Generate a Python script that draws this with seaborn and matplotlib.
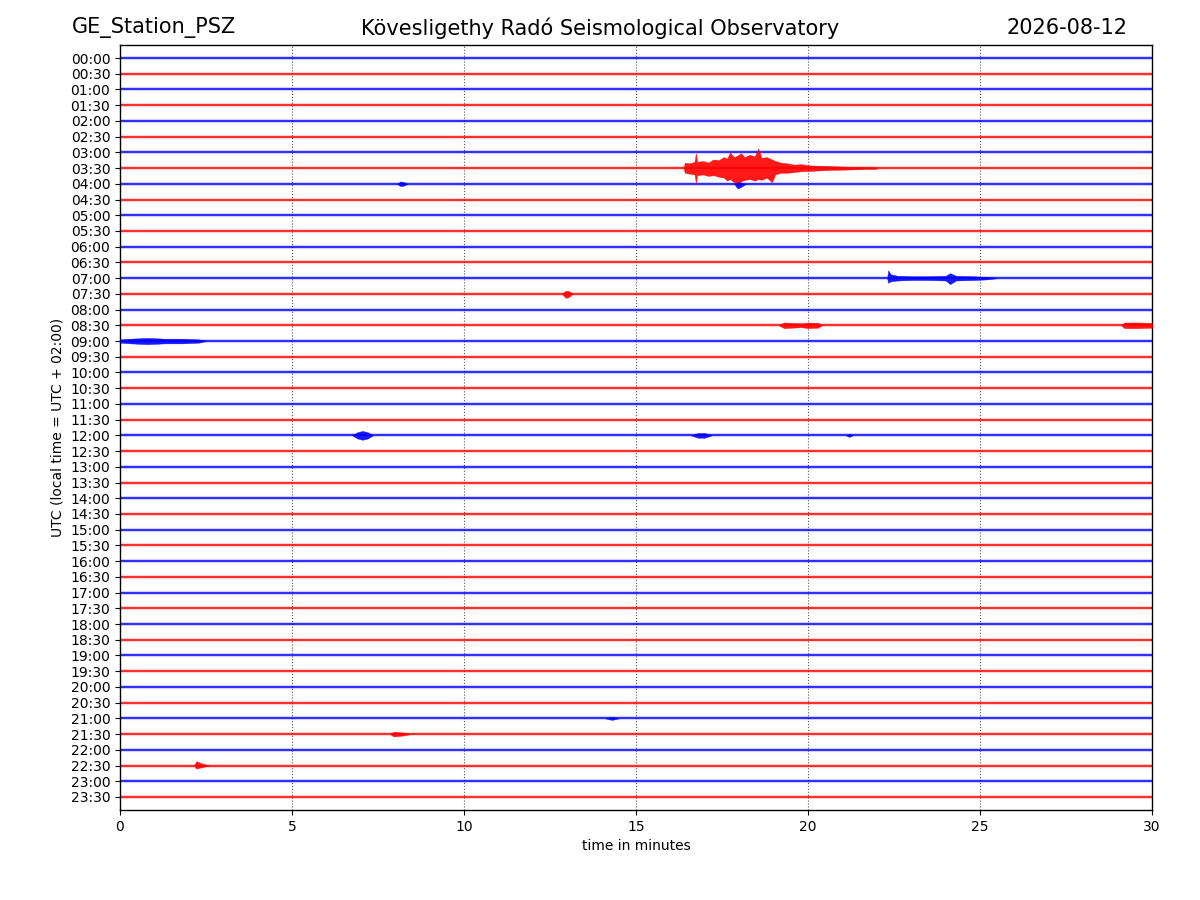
import matplotlib
matplotlib.use("Agg")
import matplotlib.pyplot as plt
import seaborn as sns
import pandas as pd

# 48 half-hour lines of the day plot, 30 minutes each
row_labels = [
    "00:00", "00:30", "01:00", "01:30", "02:00", "02:30", "03:00", "03:30",
    "04:00", "04:30", "05:00", "05:30", "06:00", "06:30", "07:00", "07:30",
    "08:00", "08:30", "09:00", "09:30", "10:00", "10:30", "11:00", "11:30",
    "12:00", "12:30", "13:00", "13:30", "14:00", "14:30", "15:00", "15:30",
    "16:00", "16:30", "17:00", "17:30", "18:00", "18:30", "19:00", "19:30",
    "20:00", "20:30", "21:00", "21:30", "22:00", "22:30", "23:00", "23:30",
]
trace_colors = ["#0000ff", "#ff0000"]  # alternating per line
x_ticks = [0, 5, 10, 15, 20, 25, 30]

# envelopes of the visible events (minute, amplitude up, amplitude down), in line units
quake_row = 7
quake_min = [16.38, 16.42, 16.55, 16.70, 16.74, 16.78, 16.95, 17.10, 17.25, 17.40,
             17.55, 17.65, 17.73, 17.85, 17.95, 18.05, 18.15, 18.30, 18.45, 18.55,
             18.65, 18.80, 18.95, 19.05, 19.20, 19.40, 19.60, 19.80, 20.00, 20.30,
             20.60, 21.00, 21.50, 22.00]
quake_up = [0.0, 0.35, 0.30, 0.40, 0.95, 0.40, 0.45, 0.35, 0.55, 0.50,
            0.70, 0.60, 1.00, 0.70, 0.80, 0.95, 0.70, 0.85, 0.75, 1.25,
            0.65, 0.70, 0.55, 0.45, 0.35, 0.30, 0.22, 0.25, 0.18, 0.15,
            0.13, 0.10, 0.07, 0.04]
quake_down = [0.0, 0.30, 0.35, 0.40, 0.95, 0.45, 0.40, 0.50, 0.45, 0.55,
              0.60, 0.80, 0.70, 0.90, 1.10, 0.85, 0.75, 0.70, 0.80, 0.70,
              0.75, 0.60, 0.90, 0.40, 0.30, 0.30, 0.25, 0.20, 0.18, 0.15,
              0.12, 0.10, 0.07, 0.04]

local_row = 14
local_min = [22.30, 22.33, 22.40, 22.60, 23.00, 23.50, 24.00, 24.13, 24.30, 24.80, 25.20, 25.50]
local_up = [0.0, 0.50, 0.25, 0.15, 0.12, 0.12, 0.15, 0.32, 0.15, 0.12, 0.08, 0.0]
local_down = [0.0, 0.30, 0.20, 0.15, 0.12, 0.12, 0.15, 0.38, 0.15, 0.12, 0.08, 0.0]

# smaller bursts: (line, minutes, amp up, amp down)
small_events = [
    (8, [8.05, 8.15, 8.25, 8.35], [0.0, 0.15, 0.12, 0.0], [0.0, 0.15, 0.12, 0.0]),
    (8, [17.85, 17.95, 18.05, 18.20], [0.0, 0.10, 0.08, 0.0], [0.0, 0.30, 0.20, 0.0]),
    (15, [12.85, 12.95, 13.05, 13.15], [0.0, 0.20, 0.18, 0.0], [0.0, 0.25, 0.20, 0.0]),
    (17, [19.15, 19.30, 19.80, 20.00, 20.30, 20.40], [0.0, 0.18, 0.12, 0.18, 0.15, 0.0],
     [0.0, 0.18, 0.12, 0.18, 0.15, 0.0]),
    (17, [29.10, 29.20, 29.60, 30.00], [0.0, 0.18, 0.18, 0.15], [0.0, 0.18, 0.18, 0.15]),
    (18, [0.00, 0.30, 0.80, 1.30, 1.80, 2.30, 2.50], [0.10, 0.15, 0.20, 0.15, 0.15, 0.10, 0.0],
     [0.10, 0.15, 0.20, 0.15, 0.15, 0.10, 0.0]),
    (24, [6.75, 6.90, 7.05, 7.20, 7.35], [0.0, 0.20, 0.28, 0.20, 0.0], [0.0, 0.20, 0.28, 0.20, 0.0]),
    (24, [16.60, 16.80, 17.00, 17.20], [0.0, 0.15, 0.15, 0.0], [0.0, 0.15, 0.15, 0.0]),
    (24, [21.10, 21.20, 21.30], [0.0, 0.10, 0.0], [0.0, 0.10, 0.0]),
    (42, [14.10, 14.30, 14.50], [0.0, 0.10, 0.0], [0.0, 0.10, 0.0]),
    (43, [7.85, 7.95, 8.20, 8.45], [0.0, 0.15, 0.10, 0.0], [0.0, 0.15, 0.10, 0.0]),
    (45, [2.15, 2.22, 2.35, 2.60], [0.0, 0.28, 0.15, 0.0], [0.0, 0.20, 0.12, 0.0]),
]

sns.set_style("ticks")
plt.rcParams["font.family"] = ["DejaVu Sans"]
plt.rcParams["text.color"] = "black"
plt.rcParams["axes.labelcolor"] = "black"

fig = plt.figure(figsize=(12, 9), dpi=100)
ax = fig.add_axes([0.1, 0.1, 0.86, 0.85])

# baselines of every half-hour line
base = pd.DataFrame({
    "minute": [0, 30] * len(row_labels),
    "row": [i for i in range(len(row_labels)) for _ in range(2)],
})
base["parity"] = base["row"] % 2
palette = {0: trace_colors[0], 1: trace_colors[1]}
# faint noise band, then the trace itself
sns.lineplot(data=base, x="minute", y="row", hue="parity", units="row", estimator=None,
             palette=palette, legend=False, linewidth=3.0, alpha=0.18, ax=ax)
sns.lineplot(data=base, x="minute", y="row", hue="parity", units="row", estimator=None,
             palette=palette, legend=False, linewidth=1.1, ax=ax)


def draw_event(row, minutes, up, down, alpha=0.9):
    col = trace_colors[row % 2]
    lo = [row - u for u in up]
    hi = [row + d for d in down]
    ax.fill_between(minutes, lo, hi, color=col, alpha=alpha, linewidth=0.3, zorder=3)


draw_event(quake_row, quake_min, quake_up, quake_down)
draw_event(local_row, local_min, local_up, local_down)
for r, m, u, d in small_events:
    draw_event(r, m, u, d)

ax.set_xlim(0, 30)
ax.set_ylim(len(row_labels) - 0.17, -0.83)
ax.set_xticks(x_ticks)
ax.set_yticks(range(len(row_labels)))
ax.set_yticklabels(row_labels)
ax.tick_params(axis="both", direction="out", length=3.5, width=0.8, labelsize=10,
               colors="black")
for s in ax.spines.values():
    s.set_visible(True)
    s.set_color("black")
    s.set_linewidth(1.0)
for xv in x_ticks[1:-1]:
    ax.axvline(xv, color="#555555", linestyle=":", linewidth=0.8, zorder=0)

ax.set_xlabel("time in minutes", fontsize=10)
ax.set_ylabel("UTC (local time = UTC + 02:00)", fontsize=10)

fig.text(0.06, 0.969, "GE_Station_PSZ", fontsize=15, ha="left", va="center")
fig.text(0.5, 0.969, "Kövesligethy Radó Seismological Observatory", fontsize=15,
         ha="center", va="center")
fig.text(0.94, 0.969, "2026-08-12", fontsize=15, ha="right", va="center")

fig.savefig("out.png", dpi=100)
